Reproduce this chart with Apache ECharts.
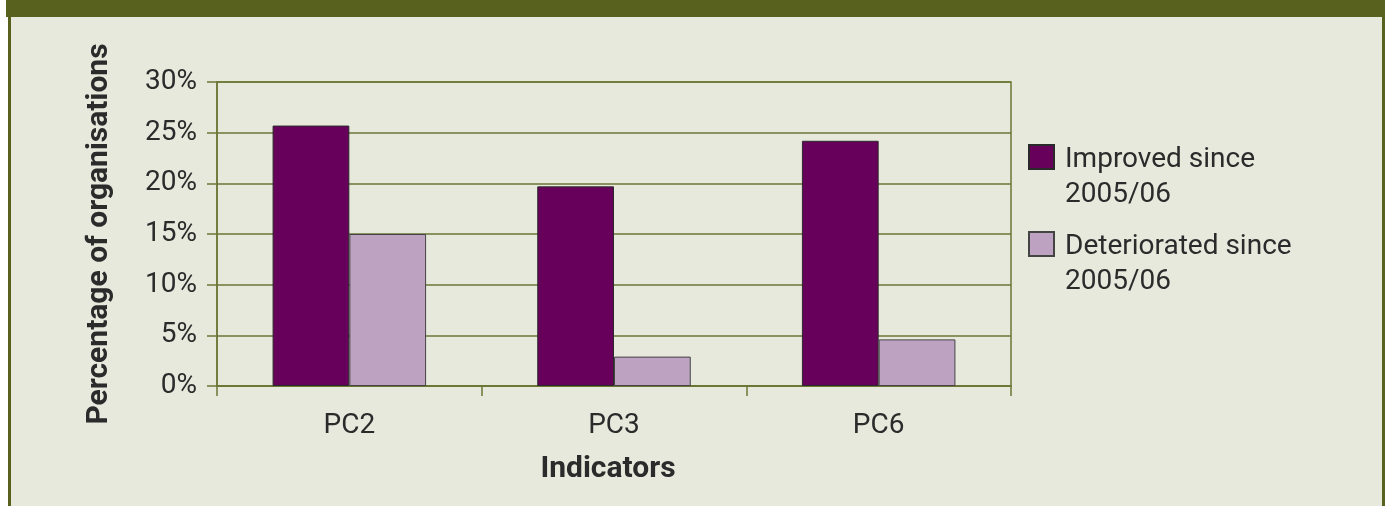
<!DOCTYPE html>
<html>
<head>
<meta charset="utf-8">
<script src="https://cdn.jsdelivr.net/npm/echarts@6/dist/echarts.min.js"></script>
<style>
  html, body { margin: 0; padding: 0; background: #ffffff; }
  #chart { width: 1389px; height: 506px; }
</style>
</head>
<body>
<div id="chart"></div>
<script>
const categories = ['PC2', 'PC3', 'PC6'];
const improved = [25.7, 19.7, 24.2];
const deteriorated = [15.0, 2.9, 4.6];
const seriesNames = ['Improved since\n2005/06', 'Deteriorated since\n2005/06'];
const yTicks = [0, 5, 10, 15, 20, 25, 30];
const yAxisTitle = 'Percentage of organisations';
const xAxisTitle = 'Indicators';

const FONT = 'Roboto';
const TEXT = '#2b2b2b';
const OLIVE = '#6b7634';
const BAND = '#59611f';
const PANEL = '#e8e9dd';

const chart = echarts.init(document.getElementById('chart'), null, { renderer: 'canvas' });

const legendText = {
  fontFamily: FONT, fontSize: 28, color: TEXT, lineHeight: 35,
  padding: [0, 0, 0, 6],
  rich: { s: { fontFamily: FONT, fontSize: 28, lineHeight: 41 } }
};
const legendFormatter = name => '{s| }\n' + name;

chart.setOption({
  animation: false,
  backgroundColor: '#ffffff',
  graphic: [
    { type: 'rect', z: -10, silent: true, shape: { x: 6, y: 0, width: 1379, height: 17 }, style: { fill: BAND } },
    { type: 'rect', z: -10, silent: true, shape: { x: 8, y: 17, width: 1377, height: 489 }, style: { fill: BAND } },
    { type: 'rect', z: -9, silent: true, shape: { x: 11, y: 17, width: 1371, height: 489 }, style: { fill: PANEL } }
  ],
  grid: {
    left: 217, right: 378, top: 82, bottom: 120,
    show: true, borderColor: OLIVE, borderWidth: 1.5, backgroundColor: 'transparent'
  },
  legend: [
    {
      data: [seriesNames[0]], orient: 'vertical', left: 1028, top: 101.5, padding: 0,
      icon: 'rect', itemWidth: 25, itemHeight: 24, textStyle: legendText,
      formatter: legendFormatter, selectedMode: false
    },
    {
      data: [seriesNames[1]], orient: 'vertical', left: 1028, top: 188.5, padding: 0,
      icon: 'rect', itemWidth: 25, itemHeight: 24, textStyle: legendText,
      formatter: legendFormatter, selectedMode: false
    }
  ],
  xAxis: {
    type: 'category',
    data: categories,
    boundaryGap: true,
    name: xAxisTitle,
    nameLocation: 'middle',
    nameGap: 68,
    nameTextStyle: { fontFamily: FONT, fontSize: 30, fontWeight: 'bold', color: TEXT, padding: [0, 12, 0, 0] },
    axisLine: { show: true, lineStyle: { color: OLIVE, width: 1.5 } },
    axisTick: { show: true, alignWithLabel: false, length: 10, lineStyle: { color: OLIVE, width: 1.5 } },
    axisLabel: { fontFamily: FONT, fontSize: 28, color: TEXT, margin: 26 },
    splitLine: { show: false }
  },
  yAxis: {
    type: 'value',
    min: yTicks[0],
    max: yTicks[yTicks.length - 1],
    interval: yTicks[1] - yTicks[0],
    name: yAxisTitle,
    nameLocation: 'middle',
    nameGap: 103,
    nameTextStyle: { fontFamily: FONT, fontSize: 30, fontWeight: 'bold', color: TEXT },
    axisLine: { show: true, lineStyle: { color: OLIVE, width: 1.5 } },
    axisTick: { show: true, length: 10, lineStyle: { color: OLIVE, width: 1.5 } },
    axisLabel: { fontFamily: FONT, fontSize: 28, color: TEXT, margin: 20, padding: [0, 0, 12, 0], formatter: '{value}%' },
    splitLine: { show: true, lineStyle: { color: OLIVE, width: 1.5 } }
  },
  series: [
    {
      name: seriesNames[0], type: 'bar', data: improved,
      barGap: '0%', barCategoryGap: '42%',
      itemStyle: { color: '#66005a', borderColor: '#2a2a2a', borderWidth: 1 }
    },
    {
      name: seriesNames[1], type: 'bar', data: deteriorated,
      barGap: '0%', barCategoryGap: '42%',
      itemStyle: { color: '#bda3c1', borderColor: '#444444', borderWidth: 1 }
    }
  ]
});
</script>
</body>
</html>
